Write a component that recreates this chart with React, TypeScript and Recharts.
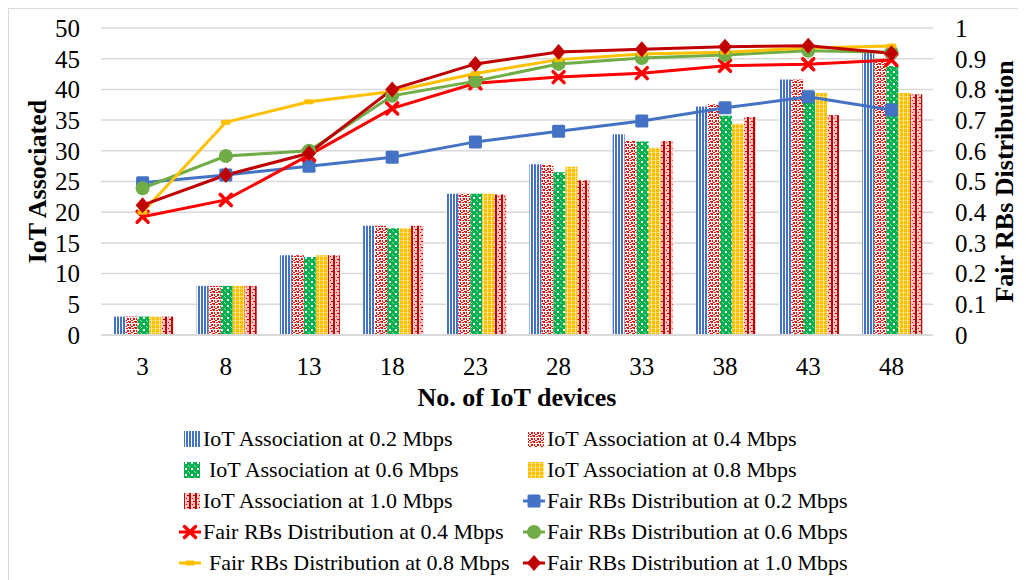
import React from 'react';
import { ComposedChart, Bar, Line, XAxis, YAxis, CartesianGrid } from 'recharts';

// x categories: number of IoT devices
const devices = [3, 8, 13, 18, 23, 28, 33, 38, 43, 48];

// IoT devices associated (left axis)
const assoc02 = [3, 8, 13, 17.8, 23, 27.8, 32.7, 37.2, 41.6, 46];
const assoc04 = [3, 8, 13, 17.8, 23, 27.7, 31.6, 37.6, 41.6, 45];
const assoc06 = [3, 8, 12.7, 17.4, 23, 26.5, 31.5, 35.7, 39.6, 43.8];
const assoc08 = [3, 8, 13, 17.4, 23, 27.4, 30.5, 34.4, 39.4, 39.4];
const assoc10 = [3, 8, 13, 17.8, 22.9, 25.2, 31.6, 35.5, 35.8, 39.2];

// fairness of RB distribution (right axis)
const fair02 = [0.496, 0.521, 0.55, 0.579, 0.629, 0.664, 0.697, 0.74, 0.776, 0.733];
const fair04 = [0.385, 0.44, 0.586, 0.738, 0.82, 0.84, 0.853, 0.877, 0.882, 0.896];
const fair06 = [0.478, 0.583, 0.6, 0.779, 0.827, 0.883, 0.902, 0.912, 0.926, 0.921];
const fair08 = [0.4, 0.693, 0.76, 0.793, 0.852, 0.897, 0.915, 0.921, 0.935, 0.941];
const fair10 = [0.423, 0.521, 0.592, 0.8, 0.883, 0.922, 0.931, 0.939, 0.942, 0.918];

const leftTicks = [0, 5, 10, 15, 20, 25, 30, 35, 40, 45, 50];
const rightTicks = [0, 0.1, 0.2, 0.3, 0.4, 0.5, 0.6, 0.7, 0.8, 0.9, 1];

const data = devices.map((d, i) => ({
  devices: d,
  a02: assoc02[i],
  a04: assoc04[i],
  a06: assoc06[i],
  a08: assoc08[i],
  a10: assoc10[i],
  f02: fair02[i],
  f04: fair04[i],
  f06: fair06[i],
  f08: fair08[i],
  f10: fair10[i],
}));

const BLUE = '#4472C4';
const RED = '#FF0000';
const GREEN = '#00B050';
const OLIVE = '#70AD47';
const GOLD = '#FFC000';
const DARKRED = '#C00000';
const SERIF = '"Times New Roman", "Liberation Serif", "DejaVu Serif", serif';

// fill patterns shared by the bars and the legend swatches
const PatternDefs = () => (
  <svg width={0} height={0} style={{ position: 'absolute' }}>
    <defs>
      <pattern id="pat02" width="3" height="4" patternUnits="userSpaceOnUse">
        <rect width="3" height="4" fill="#fff" />
        <rect width="2" height="4" fill={BLUE} />
      </pattern>
      <pattern id="pat04" width="6" height="6" patternUnits="userSpaceOnUse">
        <rect width="6" height="6" fill="#fff" />
        <rect x="0" y="0" width="2" height="2" fill={RED} />
        <rect x="3" y="1" width="2" height="1" fill={RED} />
        <rect x="1" y="3" width="1" height="2" fill={RED} />
        <rect x="4" y="3" width="2" height="2" fill={RED} />
        <rect x="2" y="5" width="2" height="1" fill={RED} />
        <rect x="5" y="0" width="1" height="1" fill={RED} />
      </pattern>
      <pattern id="pat06" width="6" height="6" patternUnits="userSpaceOnUse">
        <rect width="6" height="6" fill={GREEN} />
        <rect x="2" y="2" width="2" height="2" fill="#fff" />
        <rect x="0" y="0" width="1" height="1" fill="#9fdcb4" />
        <rect x="5" y="5" width="1" height="1" fill="#9fdcb4" />
      </pattern>
      <pattern id="pat08" width="4" height="4" patternUnits="userSpaceOnUse">
        <rect width="4" height="4" fill={GOLD} />
        <rect x="2" y="0" width="1" height="4" fill="#fff" opacity="0.55" />
        <rect x="0" y="3" width="4" height="1" fill="#fff" opacity="0.35" />
      </pattern>
      <pattern id="pat10" width="6" height="6" patternUnits="userSpaceOnUse">
        <rect width="6" height="6" fill="#fff" />
        <rect x="2" y="0" width="4" height="6" fill="#f3c0c0" />
        <rect x="0" y="0" width="2" height="6" fill={DARKRED} />
        <rect x="3" y="1" width="1" height="1" fill={RED} />
        <rect x="4" y="4" width="2" height="1" fill={DARKRED} />
        <rect x="2" y="3" width="1" height="1" fill="#fff" />
      </pattern>
    </defs>
  </svg>
);

// line markers
const SquareDot = (p: any) =>
  p.cx == null ? null : (
    <rect key={`sq-${p.index}`} x={p.cx - 6.5} y={p.cy - 6.5} width={13} height={13} rx={1.5} fill={BLUE} />
  );

const CrossDot = (p: any) =>
  p.cx == null ? null : (
    <g key={`x-${p.index}`} stroke={RED} strokeWidth={3.5} strokeLinecap="round">
      <line x1={p.cx - 5.5} y1={p.cy - 5.5} x2={p.cx + 5.5} y2={p.cy + 5.5} />
      <line x1={p.cx - 5.5} y1={p.cy + 5.5} x2={p.cx + 5.5} y2={p.cy - 5.5} />
    </g>
  );

const CircleDot = (p: any) =>
  p.cx == null ? null : <circle key={`c-${p.index}`} cx={p.cx} cy={p.cy} r={7} fill={OLIVE} />;

const DashDot = (p: any) =>
  p.cx == null ? null : (
    <rect key={`d-${p.index}`} x={p.cx - 5} y={p.cy - 2.5} width={10} height={5} rx={2} fill={GOLD} />
  );

const DiamondDot = (p: any) =>
  p.cx == null ? null : (
    <polygon
      key={`dm-${p.index}`}
      points={`${p.cx},${p.cy - 8} ${p.cx + 7},${p.cy} ${p.cx},${p.cy + 8} ${p.cx - 7},${p.cy}`}
      fill={DARKRED}
    />
  );

// centred axis title; `rot` turns it (recharts' own `angle` would override it)
const AxisTitle = (props: any) => {
  const { viewBox, value, offX = 0, offY = 0, rot = 0 } = props;
  if (!viewBox) return null;
  const cx = viewBox.x + viewBox.width / 2 + offX;
  const cy = viewBox.y + viewBox.height / 2 + offY;
  return (
    <text
      x={cx}
      y={cy}
      transform={rot ? `rotate(${rot} ${cx} ${cy})` : undefined}
      textAnchor="middle"
      dominantBaseline="central"
      fontFamily={SERIF}
      fontSize={26}
      fontWeight="bold"
      fill="#000"
    >
      {value}
    </text>
  );
};

const legendItems = [
  { label: 'IoT Association at 0.2 Mbps', bar: 'pat02' },
  { label: 'IoT Association at 0.4 Mbps', bar: 'pat04' },
  { label: 'IoT Association at 0.6 Mbps', bar: 'pat06', pad: 6 },
  { label: 'IoT Association at 0.8 Mbps', bar: 'pat08' },
  { label: 'IoT Association at 1.0 Mbps', bar: 'pat10' },
  { label: 'Fair RBs Distribution at 0.2 Mbps', line: BLUE, marker: 'square' },
  { label: 'Fair RBs Distribution at 0.4 Mbps', line: RED, marker: 'cross' },
  { label: 'Fair RBs Distribution at 0.6 Mbps', line: OLIVE, marker: 'circle' },
  { label: 'Fair RBs Distribution at 0.8 Mbps', line: GOLD, marker: 'dash', pad: 6 },
  { label: 'Fair RBs Distribution at 1.0 Mbps', line: DARKRED, marker: 'diamond' },
];

const LegendIcon = ({ item }: { item: any }) => {
  const m = { cx: 13, cy: 10, index: 0 };
  return (
    <svg width={26} height={20} style={{ flex: 'none' }}>
      {item.bar ? (
        <rect x={7} y={2} width={16} height={16} fill={`url(#${item.bar})`} />
      ) : (
        <g>
          <line x1={2} y1={10} x2={24} y2={10} stroke={item.line} strokeWidth={3} />
          {item.marker === 'square' && SquareDot(m)}
          {item.marker === 'cross' && CrossDot(m)}
          {item.marker === 'circle' && CircleDot(m)}
          {item.marker === 'dash' && DashDot(m)}
          {item.marker === 'diamond' && DiamondDot(m)}
        </g>
      )}
    </svg>
  );
};

const ChartLegend = () => (
  <div
    style={{
      position: 'absolute',
      left: 168,
      top: 414,
      display: 'grid',
      gridTemplateColumns: '344px 360px',
      gridAutoRows: '31px',
      fontFamily: SERIF,
      fontSize: 22,
      color: '#000',
    }}
  >
    {legendItems.map((item) => (
      <div key={item.label} style={{ display: 'flex', alignItems: 'center', whiteSpace: 'nowrap' }}>
        <LegendIcon item={item} />
        <span style={{ paddingLeft: item.pad || 0, fontFamily: SERIF }}>{item.label}</span>
      </div>
    ))}
  </div>
);

const tickStyle = { fontFamily: SERIF, fontSize: 25, fill: '#000' };

const App = () => (
  <div
    style={{
      position: 'relative',
      width: 1010,
      height: 580,
      border: '1px solid #D9D9D9',
      background: '#fff',
      fontFamily: SERIF,
    }}
  >
    <PatternDefs />
    <ComposedChart
      width={1010}
      height={420}
      data={data}
      margin={{ top: 19, right: 0, left: 0, bottom: 0 }}
      barCategoryGap="15%"
      barGap={0}
      style={{ fontFamily: SERIF }}
    >
      <CartesianGrid yAxisId="left" vertical={false} stroke="#D9D9D9" strokeWidth={1.5} />
      <XAxis
        dataKey="devices"
        height={94}
        tick={tickStyle}
        tickLine={false}
        tickMargin={16}
        axisLine={{ stroke: '#D9D9D9', strokeWidth: 2 }}
        label={<AxisTitle value="No. of IoT devices" offY={15} />}
      />
      <YAxis
        yAxisId="left"
        width={92}
        domain={[0, 50]}
        ticks={leftTicks}
        interval={0}
        tick={tickStyle}
        tickLine={false}
        axisLine={false}
        tickMargin={15}
        label={<AxisTitle value="IoT Associated" rot={-90} offX={-17.5} />}
      />
      <YAxis
        yAxisId="right"
        orientation="right"
        width={86}
        domain={[0, 1]}
        ticks={rightTicks}
        interval={0}
        tick={tickStyle}
        tickLine={false}
        axisLine={false}
        tickMargin={16}
        tickFormatter={(v: number) => String(Math.round(v * 10) / 10)}
        label={<AxisTitle value="Fair RBs Distribution" rot={-90} offX={28} />}
      />

      <Bar yAxisId="left" dataKey="a02" name="IoT Association at 0.2 Mbps" fill="url(#pat02)" isAnimationActive={false} />
      <Bar yAxisId="left" dataKey="a04" name="IoT Association at 0.4 Mbps" fill="url(#pat04)" isAnimationActive={false} />
      <Bar yAxisId="left" dataKey="a06" name="IoT Association at 0.6 Mbps" fill="url(#pat06)" isAnimationActive={false} />
      <Bar yAxisId="left" dataKey="a08" name="IoT Association at 0.8 Mbps" fill="url(#pat08)" isAnimationActive={false} />
      <Bar yAxisId="left" dataKey="a10" name="IoT Association at 1.0 Mbps" fill="url(#pat10)" isAnimationActive={false} />

      <Line yAxisId="right" dataKey="f02" name="Fair RBs Distribution at 0.2 Mbps" stroke={BLUE} strokeWidth={3} dot={SquareDot} activeDot={false} isAnimationActive={false} />
      <Line yAxisId="right" dataKey="f04" name="Fair RBs Distribution at 0.4 Mbps" stroke={RED} strokeWidth={3} dot={CrossDot} activeDot={false} isAnimationActive={false} />
      <Line yAxisId="right" dataKey="f06" name="Fair RBs Distribution at 0.6 Mbps" stroke={OLIVE} strokeWidth={3} dot={CircleDot} activeDot={false} isAnimationActive={false} />
      <Line yAxisId="right" dataKey="f08" name="Fair RBs Distribution at 0.8 Mbps" stroke={GOLD} strokeWidth={3} dot={DashDot} activeDot={false} isAnimationActive={false} />
      <Line yAxisId="right" dataKey="f10" name="Fair RBs Distribution at 1.0 Mbps" stroke={DARKRED} strokeWidth={3} dot={DiamondDot} activeDot={false} isAnimationActive={false} />
    </ComposedChart>
    <ChartLegend />
  </div>
);

export default App;
